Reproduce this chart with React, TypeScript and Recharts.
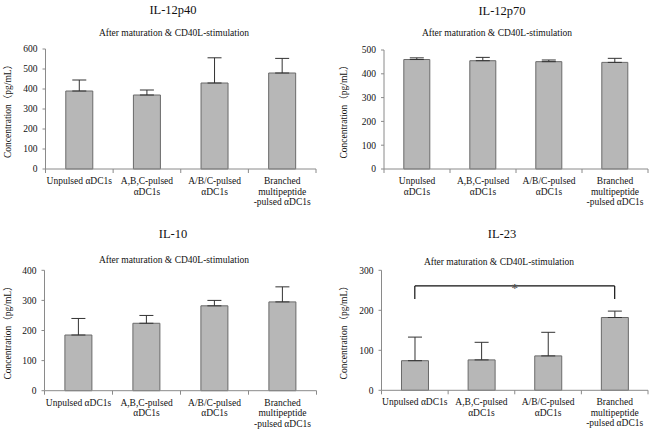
import React from 'react';
import { BarChart, Bar, XAxis, YAxis, ErrorBar, ReferenceLine } from 'recharts';

const FONT = '"Liberation Serif", "Times New Roman", "Noto Sans CJK JP", serif';
const AXIS = '#8a8a8a';

const categories = [
  'Unpulsed αDC1s',
  'A,B,C-pulsed αDC1s',
  'A/B/C-pulsed αDC1s',
  'Branched multipeptide -pulsed αDC1s',
];
const tickLinesWide = [
  ['Unpulsed αDC1s'],
  ['A,B,C-pulsed', 'αDC1s'],
  ['A/B/C-pulsed', 'αDC1s'],
  ['Branched', 'multipeptide', '-pulsed αDC1s'],
];
const tickLinesNarrow = [
  ['Unpulsed', 'αDC1s'],
  ['A,B,C-pulsed', 'αDC1s'],
  ['A/B/C-pulsed', 'αDC1s'],
  ['Branched', 'multipeptide', '-pulsed αDC1s'],
];

const subtitle = 'After maturation & CD40L-stimulation';
const yLabel = 'Concentration（pg/mL）';
const sigMark = '*';

const il12p40Values = [390, 370, 430, 480];
const il12p40Errors = [55, 25, 126, 73];
const il12p40Ticks = [0, 100, 200, 300, 400, 500, 600];

const il12p70Values = [460, 455, 451, 448];
const il12p70Errors = [7, 14, 7, 17];
const il12p70Ticks = [0, 100, 200, 300, 400, 500];

const il10Values = [185, 224, 282, 295];
const il10Errors = [55, 26, 18, 50];
const il10Ticks = [0, 100, 200, 300, 400];

const il23Values = [74, 76, 86, 182];
const il23Errors = [59, 44, 59, 16];
const il23Ticks = [0, 100, 200, 300];
const il23BracketTop = 261;
const il23BracketBottom = 228;

const makeData = (values: number[], errors: number[]) =>
  categories.map((name, i) => ({ name, value: values[i], err: [0, errors[i]] }));

const CatTick = (props: any) => {
  const { x, y, payload, lines } = props;
  const idx = categories.indexOf(payload.value);
  const off = payload.offset ?? 0;
  const ls: string[] = lines[idx] || [payload.value];
  return (
    <g>
      <line x1={x - off} x2={x - off} y1={y} y2={y + 4} stroke={AXIS} />
      {idx === categories.length - 1 && (
        <line x1={x + off} x2={x + off} y1={y} y2={y + 4} stroke={AXIS} />
      )}
      <text x={x} y={y} textAnchor="middle" fontSize={9.5} fill="#111" fontFamily={FONT}>
        {ls.map((l, i) => (
          <tspan key={i} x={x} dy={i === 0 ? 15 : 10.5}>
            {l}
          </tspan>
        ))}
      </text>
    </g>
  );
};

const YLab = (props: any) => {
  const vb = props.viewBox || {};
  const cx = (vb.x ?? 0) + props.cx;
  const cy = (vb.y ?? 0) + (vb.height ?? 0) / 2;
  return (
    <text
      x={cx}
      y={cy}
      transform={`rotate(-90 ${cx} ${cy})`}
      textAnchor="middle"
      fontSize={9.5}
      fill="#111"
      fontFamily={FONT}
    >
      {yLabel}
    </text>
  );
};

const StarLabel = (props: any) => {
  const vb = props.viewBox || {};
  const x = (vb.x ?? 0) + (vb.width ?? 0) / 2;
  const y = vb.y ?? 0;
  return (
    <text x={x} y={y + 6} textAnchor="middle" fontSize={13} fontWeight="bold" fill="#555" fontFamily={FONT}>
      {sigMark}
    </text>
  );
};

type PanelProps = {
  left: number;
  top: number;
  title: string;
  titlePos: [number, number];
  subPos: [number, number];
  values: number[];
  errors: number[];
  ticks: number[];
  margin: { top: number; right: number; bottom: number; left: number };
  yWidth: number;
  xHeight: number;
  labelX: number;
  lines: string[][];
  bracket?: boolean;
};

const Panel = (p: PanelProps) => {
  const data = makeData(p.values, p.errors);
  const max = p.ticks[p.ticks.length - 1];
  return (
    <div style={{ position: 'absolute', left: p.left, top: p.top, width: 325, height: 217 }}>
      <BarChart width={325} height={217} data={data} margin={p.margin} barCategoryGap="30%">
        <XAxis
          dataKey="name"
          type="category"
          interval={0}
          height={p.xHeight}
          tickSize={0}
          tickMargin={0}
          tickLine={false}
          axisLine={{ stroke: AXIS }}
          tick={<CatTick lines={p.lines} />}
        />
        <YAxis
          type="number"
          domain={[0, max]}
          ticks={p.ticks}
          width={p.yWidth}
          interval={0}
          tickSize={3}
          tickMargin={5}
          axisLine={{ stroke: AXIS }}
          tickLine={{ stroke: AXIS }}
          tick={{ fontSize: 9.5, fill: '#111', fontFamily: FONT }}
          label={(lp: any) => <YLab {...lp} cx={p.labelX} />}
        />
        <Bar dataKey="value" fill="#b7b7b7" stroke="#6a6a6a" strokeWidth={1} isAnimationActive={false}>
          <ErrorBar dataKey="err" width={7} stroke="#333" strokeWidth={1} direction="y" />
        </Bar>
        {p.bracket && (
          <ReferenceLine
            segment={[
              { x: categories[0], y: il23BracketTop },
              { x: categories[3], y: il23BracketTop },
            ]}
            stroke="#111"
            strokeWidth={1.2}
            ifOverflow="visible"
            label={(lp: any) => <StarLabel {...lp} />}
          />
        )}
        {p.bracket && (
          <ReferenceLine
            segment={[
              { x: categories[0], y: il23BracketTop },
              { x: categories[0], y: il23BracketBottom },
            ]}
            stroke="#111"
            strokeWidth={1.2}
            ifOverflow="visible"
          />
        )}
        {p.bracket && (
          <ReferenceLine
            segment={[
              { x: categories[3], y: il23BracketTop },
              { x: categories[3], y: il23BracketBottom },
            ]}
            stroke="#111"
            strokeWidth={1.2}
            ifOverflow="visible"
          />
        )}
      </BarChart>
      <svg
        width={325}
        height={217}
        style={{ position: 'absolute', left: 0, top: 0, pointerEvents: 'none' }}
      >
        <text x={p.titlePos[0]} y={p.titlePos[1]} textAnchor="middle" fontSize={12.5} fill="#111" fontFamily={FONT}>
          {p.title}
        </text>
        <text x={p.subPos[0]} y={p.subPos[1]} textAnchor="middle" fontSize={9.5} fill="#111" fontFamily={FONT}>
          {subtitle}
        </text>
      </svg>
    </div>
  );
};

export default function App() {
  return (
    <div
      style={{
        position: 'absolute',
        left: 0,
        top: 0,
        width: 650,
        height: 434,
        background: '#fff',
        fontFamily: FONT,
        overflow: 'hidden',
      }}
    >
      <Panel
        left={0}
        top={0}
        title="IL-12p40"
        titlePos={[173, 14]}
        subPos={[174, 35.5]}
        values={il12p40Values}
        errors={il12p40Errors}
        ticks={il12p40Ticks}
        margin={{ top: 49, right: 9, bottom: 8, left: 0 }}
        yWidth={45.5}
        xHeight={40}
        labelX={11}
        lines={tickLinesWide}
      />
      <Panel
        left={325}
        top={0}
        title="IL-12p70"
        titlePos={[177, 15]}
        subPos={[172, 36]}
        values={il12p70Values}
        errors={il12p70Errors}
        ticks={il12p70Ticks}
        margin={{ top: 50, right: 2, bottom: 8, left: 0 }}
        yWidth={59}
        xHeight={40}
        labelX={22}
        lines={tickLinesNarrow}
      />
      <Panel
        left={0}
        top={217}
        title="IL-10"
        titlePos={[173, 21]}
        subPos={[174, 46]}
        values={il10Values}
        errors={il10Errors}
        ticks={il10Ticks}
        margin={{ top: 53.3, right: 8.5, bottom: 3.3, left: 0 }}
        yWidth={44.5}
        xHeight={40}
        labelX={11}
        lines={tickLinesWide}
      />
      <Panel
        left={325}
        top={217}
        title="IL-23"
        titlePos={[177, 21]}
        subPos={[174, 47.5]}
        values={il23Values}
        errors={il23Errors}
        ticks={il23Ticks}
        margin={{ top: 53.3, right: 2, bottom: 3.7, left: 0 }}
        yWidth={56.5}
        xHeight={40}
        labelX={22}
        lines={tickLinesWide}
        bracket
      />
    </div>
  );
}
